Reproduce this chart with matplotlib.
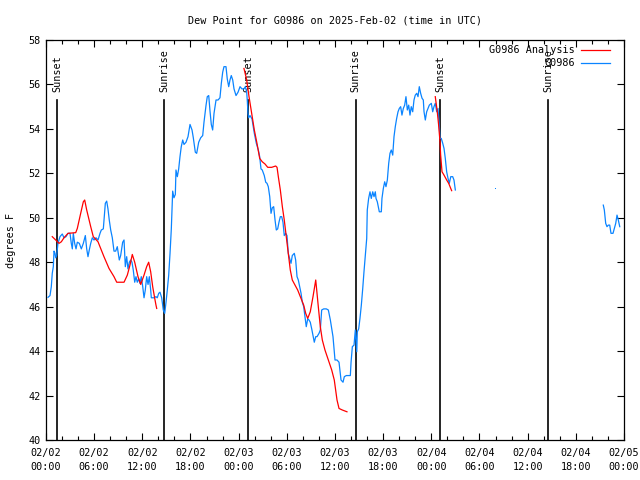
import numpy as np
import matplotlib
matplotlib.use("Agg")
import matplotlib.pyplot as plt
from matplotlib.lines import Line2D

plt.rcParams['font.family'] = ['DejaVu Sans Mono']

title = "Dew Point for G0986 on 2025-Feb-02 (time in UTC)"
ylabel = "degrees F"

# hours since 2025-02-02 00:00 UTC
obs_hours = [0.25, 0.5, 0.66, 0.78, 0.91, 1.0, 1.12, 1.21, 1.33, 1.49, 1.74, 2.03, 2.24, 2.49, 2.74, 2.99,
             3.15, 3.28, 3.40, 3.57, 3.74, 3.90, 4.15, 4.40, 4.65, 4.90, 5.07, 5.23, 5.39, 5.57, 5.77, 5.98,
             6.23, 6.48, 6.73, 6.89, 7.14, 7.39, 7.56, 7.72, 7.88, 8.06, 8.26, 8.47, 8.68, 8.88, 9.13, 9.30,
             9.55, 9.72, 9.88, 10.05, 10.21, 10.38, 10.55, 10.71, 10.87, 11.05, 11.21, 11.37, 11.55, 11.71,
             11.87, 12.05, 12.21, 12.37, 12.54, 12.71, 12.87, 13.04, 13.12, 13.45, 13.70, 13.86, 14.04, 14.20,
             14.41, 14.61, 14.79, 14.95, 15.11, 15.28, 15.45, 15.61, 15.73, 15.78, 15.94, 16.11, 16.19, 16.36,
             16.53, 16.69, 16.85, 17.03, 17.19, 17.44, 17.69, 17.94, 18.19, 18.35, 18.60, 18.77, 19.02, 19.27,
             19.52, 19.68, 19.93, 20.09, 20.27, 20.43, 20.59, 20.76, 20.93, 21.18, 21.43, 21.67, 21.84, 22.01,
             22.17, 22.42, 22.58, 22.76, 22.92, 23.08, 23.26, 23.42, 23.67, 23.92, 24.17, 24.41, 24.66, 24.83,
             25.0, 25.07, 25.16, 25.25, 25.41, 25.66, 25.95, 26.20, 26.45, 26.62, 26.78, 26.94, 27.19, 27.37,
             27.53, 27.69, 27.87, 28.03, 28.19, 28.36, 28.53, 28.69, 28.86, 29.02, 29.19, 29.36, 29.52, 29.68,
             29.86, 30.02, 30.18, 30.36, 30.52, 30.68, 30.93, 31.10, 31.27, 31.43, 31.60, 31.77, 31.93, 32.10,
             32.26, 32.42, 32.60, 32.76, 32.92, 33.10, 33.42, 33.60, 33.76, 34.01, 34.17, 34.34, 34.59, 34.92,
             35.17, 35.42, 35.75, 36.0, 36.25, 36.50, 36.75, 37.0, 37.16, 37.41, 37.66, 37.91, 38.0, 38.16,
             38.37, 38.53, 38.71, 38.78, 38.95, 39.11, 39.28, 39.45, 39.61, 39.77, 39.95, 40.02, 40.19, 40.36,
             40.52, 40.70, 40.86, 41.02, 41.11, 41.27, 41.52, 41.77, 41.85, 42.02, 42.19, 42.35, 42.52, 42.69,
             42.85, 43.01, 43.19, 43.35, 43.51, 43.68, 43.85, 44.01, 44.18, 44.34, 44.51, 44.68, 44.84, 45.01,
             45.18, 45.34, 45.50, 45.68, 45.84, 46.0, 46.18, 46.34, 46.50, 46.67, 46.84, 47.0, 47.09, 47.25,
             47.42, 47.58, 47.75, 48.0, 48.17, 48.33, 48.49, 48.67, 48.83, 48.99, 49.08, 49.24, 49.42, 49.58,
             49.74, 49.91, 50.08, 50.24, 50.42, 50.66, 50.82, 50.99,
             55.9,
             69.42, 69.55, 69.72, 69.88, 70.05, 70.22, 70.38, 70.63, 70.79, 70.97, 71.13, 71.29, 71.47]
obs_dewpt = [46.42, 46.5, 46.9, 47.5, 47.8, 48.5, 48.4, 48.2, 48.3, 48.85, 49.15, 49.27, 49.1, 49.15, 49.3, 49.3,
             48.85, 48.6, 49.3, 48.85, 48.6, 48.9, 48.85, 48.6, 48.85, 49.2, 48.6, 48.25, 48.55, 48.85, 49.1, 49.0,
             49.1, 49.0, 49.3, 49.45, 49.5, 50.65, 50.75, 50.4, 49.9, 49.45, 49.1, 48.5, 48.5, 48.7, 48.1, 48.3,
             48.9, 49.0, 47.8, 48.25, 47.7, 48.0, 48.1, 48.0, 47.65, 47.1, 47.35, 47.1, 47.25, 47.05,
             47.35, 46.9, 46.4, 46.75, 47.35, 47.0, 47.35, 46.75, 46.4, 46.4, 46.45, 46.4, 46.6, 46.65,
             46.4, 45.85, 45.7, 46.2, 46.75, 47.4, 48.4, 49.5, 50.7, 51.2, 50.9, 51.05, 52.15, 51.85,
             52.2, 52.75, 53.2, 53.5, 53.3, 53.4, 53.65, 54.2, 53.95, 53.6, 52.95, 52.9, 53.4, 53.6,
             53.7, 54.3, 55.05, 55.45, 55.5, 54.8, 54.2, 53.95, 54.7, 55.3, 55.3, 55.4, 56.05, 56.55,
             56.8, 56.8, 56.25, 55.9, 56.2, 56.4, 56.2, 55.8, 55.5, 55.65, 55.9, 55.8, 55.8, 55.9,
             55.65, 55.3, 54.7, 54.5, 54.6, 54.45, 53.8, 53.35, 53.05, 52.75, 52.2, 52.15, 51.9, 51.6,
             51.55, 51.4, 50.95, 50.2, 50.45, 50.5, 49.9, 49.45, 49.5, 49.8, 50.05, 50.05, 49.8, 49.2,
             49.3, 49.2, 48.4, 48.15, 47.95, 48.3, 48.4, 48.1, 47.35, 47.2, 46.9, 46.6, 46.2, 46.0,
             45.55, 45.1, 45.45, 45.4, 45.3, 45.0, 44.4, 44.65, 44.65, 44.8, 44.95, 45.85, 45.9, 45.9,
             45.85, 45.4, 44.65, 43.6, 43.6, 43.5, 42.7, 42.6, 42.85, 42.9, 42.9, 42.9, 43.5, 44.2,
             44.27, 44.95, 43.97, 44.87, 45.0, 45.47, 46.07, 46.8, 47.57, 48.25, 49.07, 50.35, 50.87, 51.17,
             50.87, 51.17, 50.95, 51.17, 50.87, 50.72, 50.27, 50.27, 50.87, 51.32, 51.62, 51.4, 51.7, 52.45,
             52.9, 53.05, 52.82, 53.65, 54.1, 54.47, 54.77, 54.92, 55.0, 54.62, 54.92, 55.07, 55.45, 54.85,
             55.07, 54.62, 55.0, 54.77, 55.3, 55.52, 55.6, 55.45, 55.9, 55.6, 55.38, 55.3, 54.77, 54.4,
             54.77, 54.92, 55.07, 55.15, 54.77, 55.0, 55.15, 54.77, 54.92, 54.17, 53.57, 53.57, 53.35, 53.12,
             52.67, 52.07, 51.77, 51.55, 51.85, 51.85, 51.7, 51.25,
             51.33,
             50.57, 50.35, 49.75, 49.6, 49.67, 49.67, 49.3, 49.3, 49.52, 49.75, 50.12, 49.9, 49.6]

anl_hours = [0.78, 1.21, 1.62, 1.91, 2.24, 2.74, 3.70, 3.90, 4.32, 4.65, 4.82, 5.07, 5.57, 5.89, 6.48, 6.81,
             7.22, 7.85, 8.47, 8.81, 9.72, 10.13, 10.46, 10.75, 11.05, 11.46, 11.80, 12.21, 12.54, 12.79,
             13.04, 13.29, 13.54, 13.70, 13.79,
             24.66, 25.0, 25.29, 25.62, 25.95, 26.28, 26.62, 26.94, 27.28, 27.62, 28.11, 28.61, 28.78, 28.94,
             29.19, 29.44, 29.68, 29.93, 30.18, 30.43, 30.68, 31.02, 31.35, 31.68, 32.10, 32.35, 32.60, 32.92,
             33.26, 33.60, 33.92, 34.17, 34.42, 34.75, 35.17, 35.59, 35.91, 36.25, 36.50, 36.91, 37.49,
             48.49, 48.74, 48.91, 49.08, 49.16, 49.33, 49.58, 49.91, 50.16, 50.53]
anl_dewpt = [49.15, 49.0, 48.85, 48.92, 49.1, 49.3, 49.33, 49.52, 50.2, 50.72, 50.8, 50.35, 49.6, 49.15, 48.92, 48.62,
             48.25, 47.72, 47.35, 47.1, 47.1, 47.42, 47.87, 48.35, 48.0, 47.35, 47.0, 47.42, 47.8, 48.0,
             47.57, 46.9, 46.38, 46.07, 45.92,
             56.72, 56.2, 55.45, 54.7, 53.95, 53.35, 52.67, 52.52, 52.42, 52.27, 52.27, 52.33, 52.27, 51.85,
             51.25, 50.5, 49.9, 49.15, 48.4, 47.65, 47.2, 46.97, 46.75, 46.45, 46.07, 45.7, 45.47, 45.77,
             46.45, 47.2, 46.0, 45.1, 44.5, 44.05, 43.6, 43.15, 42.7, 41.8, 41.42, 41.35, 41.27,
             55.45, 54.77, 54.17, 53.42, 52.82, 52.07, 51.92, 51.7, 51.55, 51.22]

sun_hours = [1.37, 14.7, 25.16, 38.6, 49.08, 62.53]
sun_labels = ["Sunset", "Sunrise", "Sunset", "Sunrise", "Sunset", "Sunrise"]
sun_top = 55.3

tick_dates = ["02/02"] * 4 + ["02/03"] * 4 + ["02/04"] * 4 + ["02/05"]
tick_times = ["00:00", "06:00", "12:00", "18:00"] * 3 + ["00:00"]

RED = "#ff0000"
BLUE = "#0a84ff"


def with_gaps(x, y, maxgap=1.5):
    xs, ys = [], []
    for i in range(len(x)):
        if i > 0 and x[i] - x[i - 1] > maxgap:
            xs.append(np.nan)
            ys.append(np.nan)
        xs.append(x[i])
        ys.append(y[i])
    return np.array(xs), np.array(ys)


fig = plt.figure(figsize=(6.4, 4.8), dpi=100)
ax = fig.add_axes([46 / 640, 40 / 480, 578 / 640, 400 / 480])

ax.set_xlim(0, 72)
ax.set_ylim(40, 58)

# sun lines
for h, lab in zip(sun_hours, sun_labels):
    ax.plot([h, h], [40, sun_top], color="black", lw=1.2, zorder=2)
    ax.text(h, sun_top + 0.35, lab, rotation=90, ha="center", va="bottom",
            fontsize=7.3, color="black", zorder=3)

ox, oy = with_gaps(obs_hours, obs_dewpt)
ax.plot(ox, oy, color=BLUE, lw=0.9, zorder=4)
# isolated observations
for i in range(len(obs_hours)):
    prev_gap = i == 0 or obs_hours[i] - obs_hours[i - 1] > 1.5
    next_gap = i == len(obs_hours) - 1 or obs_hours[i + 1] - obs_hours[i] > 1.5
    if prev_gap and next_gap:
        ax.plot([obs_hours[i]], [obs_dewpt[i]], marker="s", ms=0.7, mew=0, color=BLUE, lw=0, zorder=4)

axh, ayv = with_gaps(anl_hours, anl_dewpt)
ax.plot(axh, ayv, color=RED, lw=0.9, zorder=5)

# ticks
ax.set_xticks(np.arange(0, 73, 6))
ax.set_xticklabels([d + "\n" + t for d, t in zip(tick_dates, tick_times)], fontsize=7.3, linespacing=1.45)
ax.set_xticks(np.arange(0, 73, 2), minor=True)
ax.set_yticks(np.arange(40, 59, 2))
ax.set_yticklabels([str(v) for v in range(40, 59, 2)], fontsize=7.3)
ax.tick_params(axis="both", which="major", direction="in", length=5, width=0.8,
               top=True, right=True, pad=4)
ax.tick_params(axis="both", which="minor", direction="in", length=3, width=0.8,
               top=True, right=True)
ax.tick_params(axis="x", pad=6)
for sp in ax.spines.values():
    sp.set_linewidth(0.9)

ax.set_title(title, fontsize=7.3, pad=12)
ax.set_ylabel(ylabel, fontsize=7.3, labelpad=9)

# legend (gnuplot style: right-aligned text, then sample line)
leg_names = ["G0986 Analysis", "G0986"]
leg_colors = [RED, BLUE]
for i, (name, col) in enumerate(zip(leg_names, leg_colors)):
    ypix = 50 + 13 * i
    yax = 1 - (ypix - 40) / 400
    ax.text((575 - 46) / 578, yax, name, transform=ax.transAxes, ha="right", va="center",
            fontsize=7.3, zorder=6)
    ax.add_line(Line2D([(581 - 46) / 578, (610 - 46) / 578], [yax, yax], transform=ax.transAxes,
                       color=col, lw=0.9, zorder=6))

fig.savefig("out.png", dpi=100)
